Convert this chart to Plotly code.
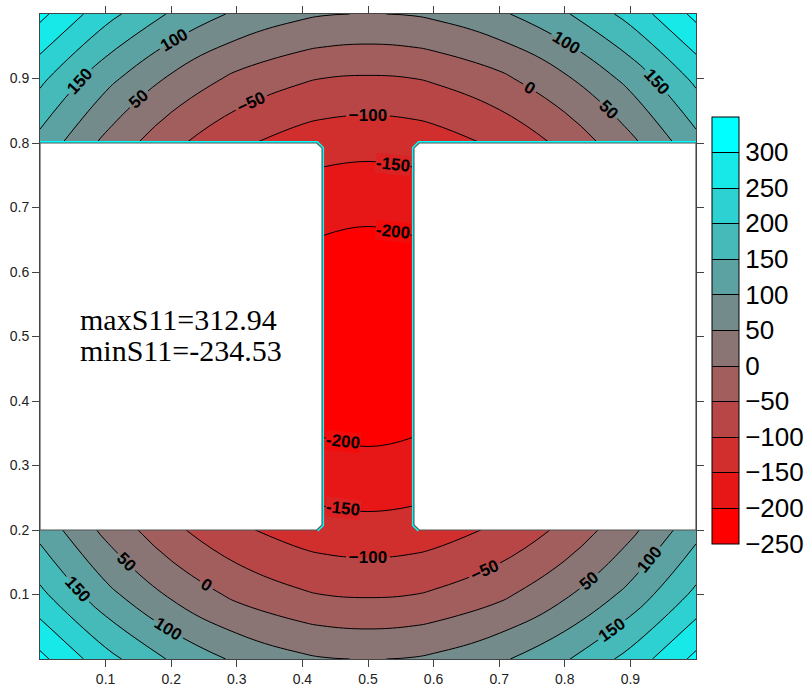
import plotly.graph_objects as go

# Node coordinates of the sampled S11 field
x_nodes = [0.0, 0.1, 0.2, 0.3, 0.4, 0.43, 0.5, 0.57, 0.6, 0.7, 0.8, 0.9, 1.0]
y_nodes = [0.0, 0.1, 0.2, 0.3, 0.4, 0.5, 0.6, 0.7, 0.8, 0.9, 1.0]

# S11 values at the nodes (rows follow y_nodes, columns follow x_nodes)
s11 = [
    [313, 218, 144, 91, 59, 53, 48, 53, 59, 91, 144, 218, 313],
    [212, 116, 42, -12, -44, -50, -55, -50, -44, -12, 42, 116, 212],
    [133, 37, -38, -91, -123, -129, -134, -129, -123, -91, -38, 37, 133],
    [77, -20, -94, -147, -179, -185, -190, -185, -179, -147, -94, -20, 77],
    [43, -54, -128, -181, -213, -219, -224, -219, -213, -181, -128, -54, 43],
    [31, -65, -139, -192, -224, -230, -234.5, -230, -224, -192, -139, -65, 31],
    [43, -54, -128, -181, -213, -219, -224, -219, -213, -181, -128, -54, 43],
    [77, -20, -94, -147, -179, -185, -190, -185, -179, -147, -94, -20, 77],
    [133, 37, -38, -91, -123, -129, -134, -129, -123, -91, -38, 37, 133],
    [212, 116, 42, -12, -44, -50, -55, -50, -44, -12, 42, 116, 212],
    [313, 218, 144, 91, 59, 53, 48, 53, 59, 91, 144, 218, 313],
]

s11_max = 312.94
s11_min = -234.53

level_start, level_end, level_step = -200, 300, 50
legend_low, legend_high = -250, 350
cbar_ticks = [-250, -200, -150, -100, -50, 0, 50, 100, 150, 200, 250, 300]
axis_ticks = [0.1, 0.2, 0.3, 0.4, 0.5, 0.6, 0.7, 0.8, 0.9]

# Section geometry: flanges y<0.2 and y>0.8, web 0.43<x<0.57
web_left, web_right = 0.43, 0.57
flange_low, flange_high = 0.2, 0.8
chamfer = 0.008

red = (255, 0, 0)
cyan = (0, 255, 255)
red_cyan = [[0, "rgb(%d,%d,%d)" % red], [1, "rgb(%d,%d,%d)" % cyan]]
levels = dict(start=level_start, end=level_end, size=level_step)
label_font = dict(family="Arial", size=17, color="black", weight="bold")
smooth = 1.3

# one colour per band: below start, between each pair of levels, above end
n_bands = (level_end - level_start) // level_step + 2


def band_colour(k):
    t = k / (n_bands - 1)
    return "rgb(%d,%d,%d)" % tuple(round(a + (b - a) * t) for a, b in zip(red, cyan))


# stepped scale for the legend bar, with thin black separators between bands
eps = 0.0013
bar_scale = []
for k in range(n_bands):
    lo, hi = k / n_bands, (k + 1) / n_bands
    c = band_colour(k)
    if k == 0:
        bar_scale.append([0.0, c])
    else:
        bar_scale += [[lo, "black"], [lo + eps, "black"], [lo + eps, c]]
    if k == n_bands - 1:
        bar_scale.append([1.0, c])
    else:
        bar_scale += [[hi - eps, c], [hi - eps, "black"]]

fig = go.Figure()

# Filled bands over the whole rectangle (openings are masked later)
fig.add_trace(go.Contour(
    x=x_nodes, y=y_nodes, z=s11,
    colorscale=red_cyan,
    autocontour=False,
    contours=dict(**levels, coloring="fill", showlines=False),
    line=dict(width=0, smoothing=smooth),
    showscale=False,
    hoverinfo="skip",
))


def sub_grid(xs_keep, ys_keep):
    xi = [i for i, v in enumerate(x_nodes) if v in xs_keep]
    yi = [j for j, v in enumerate(y_nodes) if v in ys_keep]
    return ([x_nodes[i] for i in xi], [y_nodes[j] for j in yi],
            [[s11[j][i] for i in xi] for j in yi])


web_rows = [0.2, 0.3, 0.4, 0.5, 0.6, 0.7, 0.8]
parts = [
    (sub_grid(x_nodes, [0.0, 0.1, 0.2]), True),
    (sub_grid(x_nodes, [0.8, 0.9, 1.0]), True),
    (sub_grid([0.43, 0.5, 0.57], web_rows), False),
]
for (px, py, pz), auto_labels in parts:
    fig.add_trace(go.Contour(
        x=px, y=py, z=pz,
        autocontour=False,
        contours=dict(**levels, coloring="none", showlabels=auto_labels,
                      labelfont=label_font),
        line=dict(width=1, color="black", smoothing=smooth),
        showscale=False,
        hoverinfo="skip",
    ))

# Legend bar for the banded levels (its heatmap sits outside the axis range)
fig.add_trace(go.Heatmap(
    x=[5, 6], y=[5], z=[[legend_low, legend_high]],
    zmin=legend_low, zmax=legend_high,
    colorscale=bar_scale, showscale=True, hoverinfo="skip",
    colorbar=dict(
        x=1.024, xanchor="left", xpad=0,
        y=0.51, yanchor="middle", ypad=0,
        len=0.662, lenmode="fraction", thickness=27,
        outlinecolor="black", outlinewidth=1,
        tickmode="array", tickvals=cbar_ticks,
        ticks="", ticklabelposition="outside",
        tickfont=dict(family="Arial", size=26, color="black"),
    ),
))


# Level labels inside the narrow web, placed where each level crosses it
def value_at(x, j):
    row = s11[j]
    for i in range(len(x_nodes) - 1):
        x0, x1 = x_nodes[i], x_nodes[i + 1]
        if x0 <= x <= x1:
            return row[i] + (row[i + 1] - row[i]) * (x - x0) / (x1 - x0)
    return row[-1]


web_annotations = []
for level in range(level_start, level_end + 1, level_step):
    for lower_half in (True, False):
        x_lab = 0.462 if lower_half else 0.538
        rows = [j for j, v in enumerate(y_nodes) if v in web_rows]
        rows = [j for j in rows if (y_nodes[j] <= 0.5 if lower_half else y_nodes[j] >= 0.5)]
        for a, b in zip(rows[:-1], rows[1:]):
            va, vb = value_at(x_lab, a), value_at(x_lab, b)
            if (va - level) * (vb - level) < 0:
                y_lab = y_nodes[a] + (level - va) / (vb - va) * (y_nodes[b] - y_nodes[a])
                m = (level - level_start) // level_step
                web_annotations.append(dict(
                    x=x_lab, y=y_lab, xref="x", yref="y",
                    text=str(level), showarrow=False, textangle=6,
                    font=label_font, bgcolor=band_colour(m + 0.5), borderpad=0,
                ))


# Openings on both sides of the web
def opening(side):
    if side == "left":
        e = web_left
        return [(0, flange_low), (e - chamfer, flange_low), (e, flange_low + chamfer),
                (e, flange_high - chamfer), (e - chamfer, flange_high), (0, flange_high)]
    e = web_right
    return [(1, flange_low), (e + chamfer, flange_low), (e, flange_low + chamfer),
            (e, flange_high - chamfer), (e + chamfer, flange_high), (1, flange_high)]


shapes = []
for side in ("left", "right"):
    pts = opening(side)
    # cyan edge along the web side and the upper flange
    edge = [pts[1], pts[2], pts[3], pts[4], pts[5]]
    shapes.append(dict(
        type="path", xref="x", yref="y", layer="above",
        path="M " + " L ".join(f"{a},{b}" for a, b in edge),
        line=dict(color="rgb(0,255,255)", width=4),
    ))
    shapes.append(dict(
        type="path", xref="x", yref="y", layer="above",
        path="M " + " L ".join(f"{a},{b}" for a, b in pts) + " Z",
        fillcolor="white", line=dict(color="#555555", width=1.2),
    ))

axis_style = dict(
    range=[0, 1], tickmode="array", tickvals=axis_ticks,
    ticks="outside", ticklen=7, tickcolor="#444444", tickwidth=1,
    showline=True, linecolor="#444444", linewidth=1, mirror="allticks",
    showgrid=False, zeroline=False,
    tickfont=dict(family="Arial", size=14, color="#222222"),
)

text_font = dict(family="Liberation Serif", size=30, color="black")
fig.update_layout(
    width=804, height=693,
    margin=dict(l=40, r=108, t=6, b=30),
    paper_bgcolor="white", plot_bgcolor="white",
    xaxis=axis_style, yaxis=axis_style,
    shapes=shapes,
    showlegend=False,
    annotations=[
        dict(x=0.058, y=0.527, xref="x", yref="y", xanchor="left", yanchor="middle",
             text=f"maxS11={s11_max:.2f}", showarrow=False, font=text_font),
        dict(x=0.058, y=0.479, xref="x", yref="y", xanchor="left", yanchor="middle",
             text=f"minS11={s11_min:.2f}", showarrow=False, font=text_font),
    ] + web_annotations,
)

fig.write_html("out.html")
